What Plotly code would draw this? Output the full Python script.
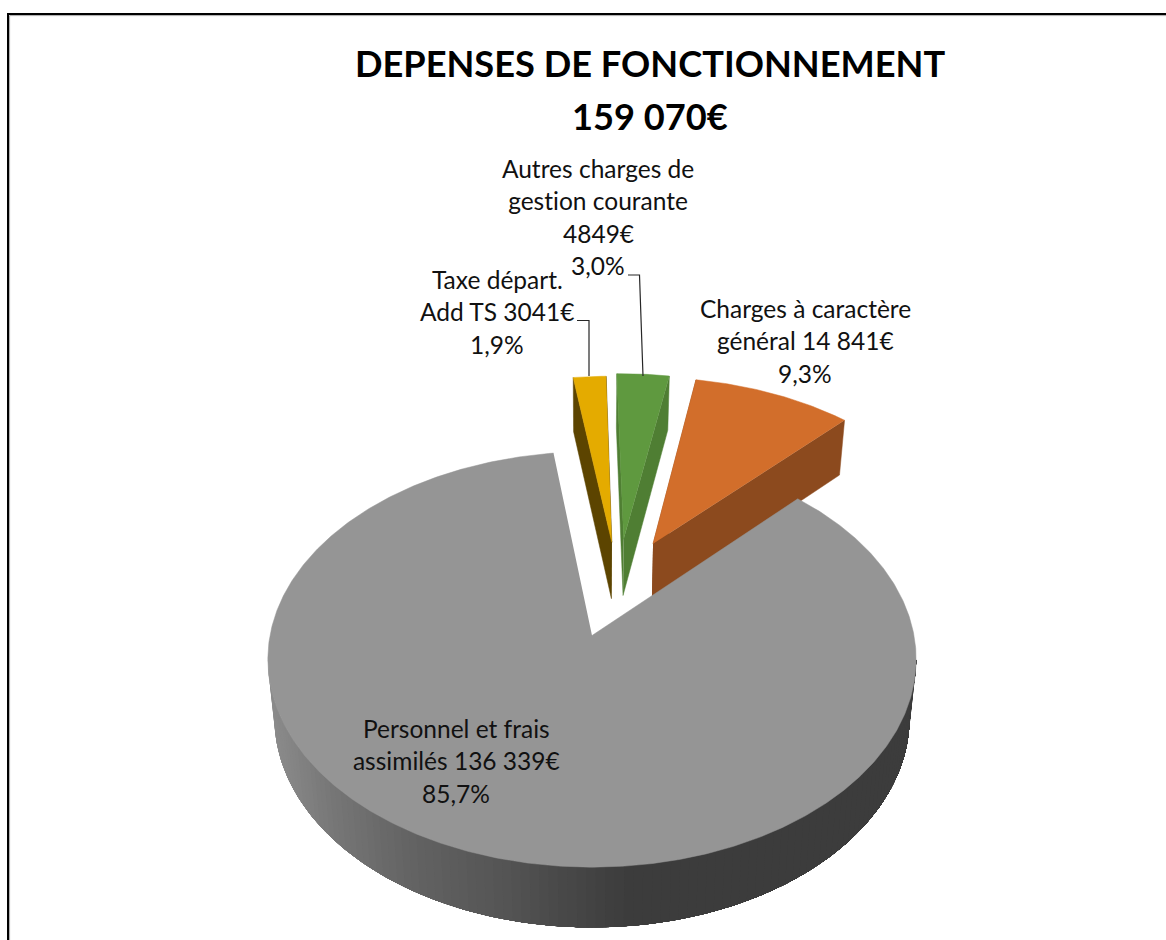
import numpy as np
import plotly.graph_objects as go

# --- data -------------------------------------------------------------
TITLE_LINES = ["DEPENSES DE FONCTIONNEMENT", "159 070€"]
CATEGORIES = ["Charges à caractère général", "Personnel et frais assimilés",
              "Taxe départ. Add TS", "Autres charges de gestion courante"]
VALUES = [14841, 136339, 3041, 4849]
LABELS = [["Charges à caractère", "général 14 841€", "9,3%"],
          ["Personnel et frais", "assimilés 136 339€", "85,7%"],
          ["Taxe départ.", "Add TS 3041€", "1,9%"],
          ["Autres charges de", "gestion courante", "4849€", "3,0%"]]

# --- style / geometry -------------------------------------------------
W, H = 1166, 940
FONT = "Lato"
TOP = ["#D26E2B", "#959595", "#E4AB00", "#5F993F"]
SIDE = ["#8C4A1E", "#959595", "#5C4400", "#4F7E33"]
OFFSET = [(0.200, 0.472), (0, 0), (0.0650, 0.480), (0.1040, 0.497)]
FACE_ORDER = [(0, 1), None, (1, 0), (0, 1)]
LABEL_POS = [(805, 308), (456, 728), (497, 279), (598, 168)]
LINE_STEP = 32.5
START_ANGLE = 10.2
CX, CY, AX, AY, K = 592.0, 635.5, 322.0, 205.0, 0.115
DEPTH, DEPTH_K, DROP_SCALE = 57.6, 0.044, 0.98


def project(X, Y, drop=False):
    X, Y = np.asarray(X, float), np.asarray(Y, float)
    sx = CX + AX * X / (1 + K * Y)
    sy = CY - AY * Y / (1 + K * Y)
    if drop:
        sx = CX + (sx - CX) * DROP_SCALE
        sy = sy + DEPTH / (1 + DEPTH_K * Y)
    return sx, sy


def poly(x, y, color, lw=0.0):
    return go.Scatter(x=list(x), y=list(y), mode="lines", fill="toself",
                      fillcolor=color, line=dict(color=color, width=lw),
                      hoverinfo="skip", showlegend=False)


def arc_pts(a0, a1, off, step=0.5):
    n = max(2, int(abs(a1 - a0) / step) + 1)
    t = np.radians(np.linspace(a0, a1, n))
    return off[0] + np.sin(t), off[1] + np.cos(t)


def rim_gray(x):
    return int(round(np.interp(x, [267, 330, 400, 500, 580, 625],
                               [140, 118, 100, 84, 68, 60])))


total = sum(VALUES)
angles = [START_ANGLE]
for v in VALUES:
    angles.append(angles[-1] + 360.0 * v / total)

fig = go.Figure()

# exploded small slices, drawn first so the large slice overlaps them
for i in (2, 3, 0):
    a0, a1 = angles[i], angles[i + 1]
    off = OFFSET[i]
    for which in FACE_ORDER[i]:
        ang = a0 if which == 0 else a1
        ex, ey = arc_pts(ang, ang, off)
        ex, ey = ex[0], ey[0]
        tx, ty = project([off[0], ex], [off[1], ey])
        bx, by = project([ex, off[0]], [ey, off[1]], drop=True)
        fig.add_trace(poly(list(tx) + list(bx), list(ty) + list(by), SIDE[i], 0.5))
    px, py = arc_pts(a0, a1, off)
    tx, ty = project(px, py)
    ox, oy = project(off[0], off[1])
    fig.add_trace(poly([float(ox)] + list(tx), [float(oy)] + list(ty), TOP[i], 0.5))

# large slice: visible rim (left to right, each band overlapping the next), then top face
a0, a1 = angles[1], angles[2]
RIM_FROM = 360 - np.degrees(np.arccos(-K))
RIM_TO = np.degrees(np.arccos(-K))
for b0 in np.arange(RIM_FROM, RIM_TO, -1.5):
    px, py = arc_pts(b0, RIM_TO, (0, 0), step=1.0)
    tx, ty = project(px, py)
    bx, by = project(px[::-1], py[::-1], drop=True)
    g = rim_gray(float(tx[0]))
    fig.add_trace(poly(list(tx) + list(bx), list(ty) + list(by), f"rgb({g},{g},{g})"))
px, py = arc_pts(a0, a1, (0, 0))
tx, ty = project(px, py)
fig.add_trace(poly([CX] + list(tx), [CY] + list(ty), TOP[1], 0.5))

# leader lines
LEADERS = [([577, 589, 589], [320.5, 320.5, 376]),
           ([628, 639.5, 643], [275, 275, 376])]
for lx, ly in LEADERS:
    fig.add_trace(go.Scatter(x=lx, y=ly, mode="lines", hoverinfo="skip", showlegend=False,
                             line=dict(color="#262626", width=1.2)))

# texts
for t, ty_ in zip(TITLE_LINES, (63, 116)):
    fig.add_annotation(x=649.5, y=ty_, text=f"<b>{t}</b>", showarrow=False,
                       xanchor="center", yanchor="middle",
                       font=dict(family=FONT, size=36.2, color="#000000"))
for lines, (lx, ly) in zip(LABELS, LABEL_POS):
    for j, line in enumerate(lines):
        fig.add_annotation(x=lx, y=ly + j * LINE_STEP, text=line, showarrow=False,
                           xanchor="center", yanchor="middle",
                           font=dict(family=FONT, size=24.5, color="#111111"))

fig.update_layout(
    width=W, height=H, margin=dict(l=0, r=0, t=0, b=0),
    paper_bgcolor="white", plot_bgcolor="white", showlegend=False,
    xaxis=dict(range=[0, W], visible=False, fixedrange=True),
    yaxis=dict(range=[H, 0], visible=False, fixedrange=True),
    shapes=[
        dict(type="path", xref="x", yref="y", path=f"M 9.6 {H} L 9.6 15.6 L {W} 15.6",
             line=dict(color="#AAAAAA", width=1), layer="below"),
        dict(type="path", xref="x", yref="y", path=f"M 8 {H} L 8 14 L {W} 14",
             line=dict(color="#000000", width=2), layer="below"),
    ],
)
POST = ("document.body.style.margin='0';document.documentElement.style.overflow='hidden';"
        "var s=document.createElement('style');"
        "s.textContent='svg text{font-variant-ligatures:none;font-feature-settings:\"liga\" 0,\"clig\" 0,\"dlig\" 0;letter-spacing:0.01px;}';"
        "document.head.appendChild(s);"
        "window.dispatchEvent(new Event('resize'));")
fig.write_html("out.html", config={"displayModeBar": False}, post_script=POST)
